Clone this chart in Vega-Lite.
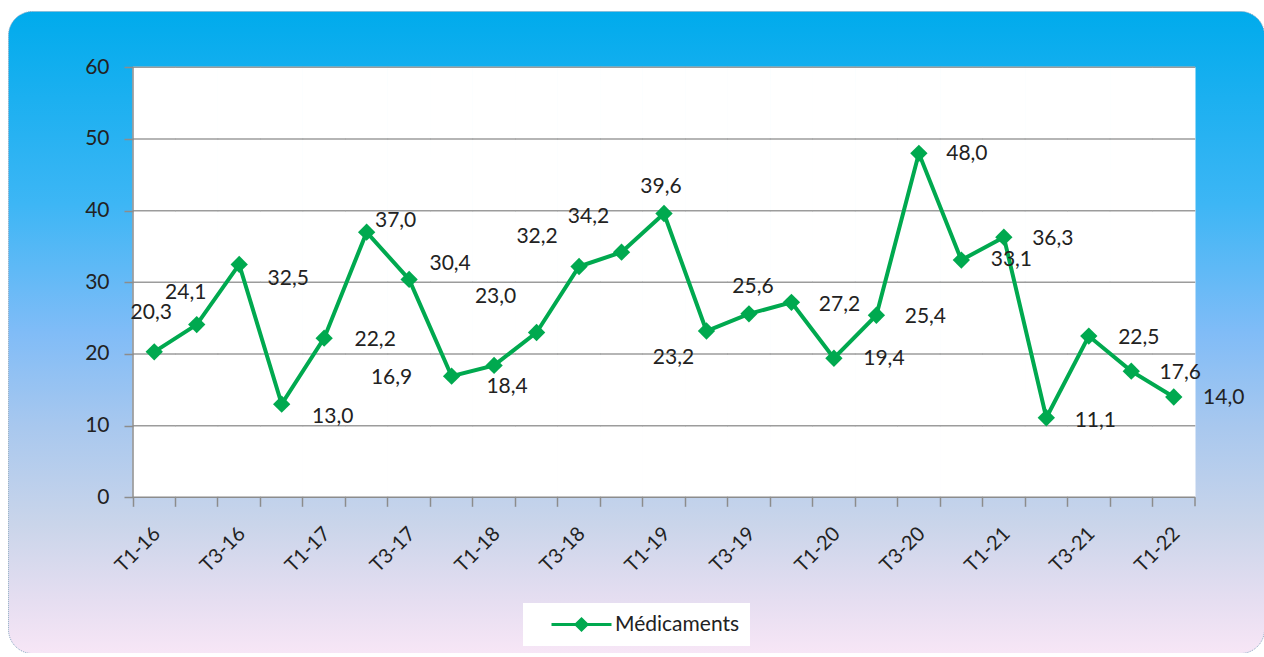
{
  "$schema": "https://vega.github.io/schema/vega-lite/v6.json",
  "autosize": "none",
  "width": 1256,
  "height": 642,
  "padding": {"left": 8, "top": 11, "right": 0, "bottom": 0},
  "background": "white",
  "config": {
    "locale": {"number": {"decimal": ",", "thousands": " ", "grouping": [3], "currency": ["", " €"]}},
    "view": {
      "fill": {
        "gradient": "linear", "x1": 0, "y1": 0, "x2": 0, "y2": 1,
        "stops": [
          {"offset": 0, "color": "#00ABEC"},
          {"offset": 0.3, "color": "#3DB6F5"},
          {"offset": 0.5, "color": "#80BCF7"},
          {"offset": 0.65, "color": "#A9C8EE"},
          {"offset": 0.8, "color": "#CAD5EA"},
          {"offset": 0.92, "color": "#E6DEF1"},
          {"offset": 1, "color": "#F7E6F6"}
        ]
      },
      "stroke": "#8aa6c1",
      "strokeWidth": 1,
      "strokeDash": [1, 1],
      "cornerRadius": 24
    }
  },
  "data": {
    "values": [
      {"q": "T1-16", "v": 20.3}, {"q": "T2-16", "v": 24.1}, {"q": "T3-16", "v": 32.5}, {"q": "T4-16", "v": 13.0},
      {"q": "T1-17", "v": 22.2}, {"q": "T2-17", "v": 37.0}, {"q": "T3-17", "v": 30.4}, {"q": "T4-17", "v": 16.9},
      {"q": "T1-18", "v": 18.4}, {"q": "T2-18", "v": 23.0}, {"q": "T3-18", "v": 32.2}, {"q": "T4-18", "v": 34.2},
      {"q": "T1-19", "v": 39.6}, {"q": "T2-19", "v": 23.2}, {"q": "T3-19", "v": 25.6}, {"q": "T4-19", "v": 27.2},
      {"q": "T1-20", "v": 19.4}, {"q": "T2-20", "v": 25.4}, {"q": "T3-20", "v": 48.0}, {"q": "T4-20", "v": 33.1},
      {"q": "T1-21", "v": 36.3}, {"q": "T2-21", "v": 11.1}, {"q": "T3-21", "v": 22.5}, {"q": "T4-21", "v": 17.6},
      {"q": "T1-22", "v": 14.0}
    ]
  },
  "layer": [
    {
      "mark": {"type": "rect", "fill": "white", "stroke": "white", "strokeWidth": 1},
      "encoding": {
        "x": {
          "field": "q", "type": "nominal", "sort": null, "title": null,
          "scale": {"type": "band", "paddingInner": 0, "paddingOuter": 0, "range": [125, 1187]},
          "axis": {
            "orient": "bottom", "offset": -155.7, "domain": false, "grid": false, "zindex": 1,
            "bandPosition": 0, "ticks": true, "tickSize": 9, "tickColor": "#8c8c8c", "tickWidth": 1.5,
            "labelAngle": -45, "labelAlign": "right", "labelBaseline": "middle", "labelOffset": 3, "labelPadding": 24,
            "labelFont": "Lato", "labelFontSize": 20, "labelColor": "#222222", "labelOverlap": false,
            "labelExpr": "test(/^T[13]-/, datum.value) ? datum.value : ''"
          }
        },
        "y": {
          "datum": 0, "type": "quantitative", "title": null,
          "scale": {"domain": [-21.726, 67.856], "nice": false, "zero": false},
          "axis": {
            "orient": "left", "offset": -125, "domain": false, "grid": false, "zindex": 1,
            "values": [0, 10, 20, 30, 40, 50, 60], "tickSize": 9, "tickColor": "#8c8c8c", "tickWidth": 1.5,
            "labelPadding": 15, "labelFont": "Lato", "labelFontSize": 21, "labelColor": "#222222"
          }
        },
        "y2": {"datum": 60}
      }
    },
    {
      "mark": {"type": "tick", "orient": "horizontal", "color": "#9c9c9c", "opacity": 1, "thickness": 1.5, "size": 43},
      "encoding": {"x": {"field": "q", "type": "nominal", "sort": null, "title": null}},
      "layer": [
        {"mark": {"type": "tick", "orient": "horizontal", "color": "#8c8c8c", "opacity": 1, "thickness": 1.5, "size": 43}, "encoding": {"y": {"datum": 0, "type": "quantitative"}}},
        {"mark": {"type": "tick", "orient": "horizontal", "color": "#9c9c9c", "opacity": 1, "thickness": 1.5, "size": 43}, "encoding": {"y": {"datum": 10, "type": "quantitative"}}},
        {"mark": {"type": "tick", "orient": "horizontal", "color": "#9c9c9c", "opacity": 1, "thickness": 1.5, "size": 43}, "encoding": {"y": {"datum": 20, "type": "quantitative"}}},
        {"mark": {"type": "tick", "orient": "horizontal", "color": "#9c9c9c", "opacity": 1, "thickness": 1.5, "size": 43}, "encoding": {"y": {"datum": 30, "type": "quantitative"}}},
        {"mark": {"type": "tick", "orient": "horizontal", "color": "#9c9c9c", "opacity": 1, "thickness": 1.5, "size": 43}, "encoding": {"y": {"datum": 40, "type": "quantitative"}}},
        {"mark": {"type": "tick", "orient": "horizontal", "color": "#9c9c9c", "opacity": 1, "thickness": 1.5, "size": 43}, "encoding": {"y": {"datum": 50, "type": "quantitative"}}},
        {"mark": {"type": "tick", "orient": "horizontal", "color": "#9c9c9c", "opacity": 1, "thickness": 1.5, "size": 43}, "encoding": {"y": {"datum": 60, "type": "quantitative"}}}
      ]
    },
    {
      "transform": [{"filter": "datum.q == 'T1-16'"}],
      "mark": {"type": "rule", "color": "#8c8c8c", "strokeWidth": 1.5},
      "encoding": {
        "x": {"field": "q", "type": "nominal", "sort": null, "title": null, "bandPosition": 0},
        "y": {"datum": 0, "type": "quantitative"},
        "y2": {"datum": 60}
      }
    },
    {
      "transform": [{"filter": "datum.q == 'T1-22'"}],
      "mark": {"type": "rule", "color": "#8c8c8c", "strokeWidth": 1.5},
      "encoding": {
        "x": {"field": "q", "type": "nominal", "sort": null, "title": null, "bandPosition": 1},
        "y": {"datum": 0, "type": "quantitative"},
        "y2": {"datum": -1.26}
      }
    },
    {
      "mark": {"type": "line", "strokeWidth": 4},
      "encoding": {
        "x": {"field": "q", "type": "nominal", "sort": null, "title": null},
        "y": {"field": "v", "type": "quantitative", "title": null},
        "color": {
          "datum": "Médicaments", "type": "nominal",
          "scale": {"range": ["#00A94F"]},
          "legend": {
            "orient": "none", "legendX": 515, "legendY": 592, "title": null,
            "fillColor": "white", "padding": 10,
            "symbolType": "M0.7,0L6.7,0M3.7,-0.55L4.25,0L3.7,0.55L3.15,0Z",
            "symbolSize": 400, "symbolStrokeWidth": 3, "symbolFillColor": "#00A94F", "symbolStrokeColor": "#00A94F",
            "labelFont": "Lato", "labelFontSize": 21, "labelColor": "#222222", "labelOffset": 59
          }
        }
      }
    },
    {
      "mark": {"type": "point", "shape": "diamond", "filled": true, "opacity": 1, "size": 300},
      "encoding": {
        "x": {"field": "q", "type": "nominal", "sort": null, "title": null},
        "y": {"field": "v", "type": "quantitative", "title": null},
        "color": {"datum": "Médicaments", "type": "nominal"}
      }
    },
    {
      "mark": {
        "type": "text", "font": "Lato", "fontSize": 21, "color": "#222222", "align": "center", "baseline": "middle",
        "dx": {"expr": "[-3,-11,49,51,51,29,41,-60,13,-41,-42,-33,-3,-33,4,48,50,49,48,50,49,49,50,49,50][indexof(['T1-16','T2-16','T3-16','T4-16','T1-17','T2-17','T3-17','T4-17','T1-18','T2-18','T3-18','T4-18','T1-19','T2-19','T3-19','T4-19','T1-20','T2-20','T3-20','T4-20','T1-21','T2-21','T3-21','T4-21','T1-22'], datum.q)]"},
        "dy": {"expr": "[-39,-32,15,13,2,-11,-15,2,22,-35,-30,-35,-26,27,-27,3,1,2,1,0,2,3,2,2,1][indexof(['T1-16','T2-16','T3-16','T4-16','T1-17','T2-17','T3-17','T4-17','T1-18','T2-18','T3-18','T4-18','T1-19','T2-19','T3-19','T4-19','T1-20','T2-20','T3-20','T4-20','T1-21','T2-21','T3-21','T4-21','T1-22'], datum.q)]"}
      },
      "encoding": {
        "x": {"field": "q", "type": "nominal", "sort": null, "title": null},
        "y": {"field": "v", "type": "quantitative", "title": null},
        "text": {"field": "v", "type": "quantitative", "format": ".1f"}
      }
    }
  ]
}
